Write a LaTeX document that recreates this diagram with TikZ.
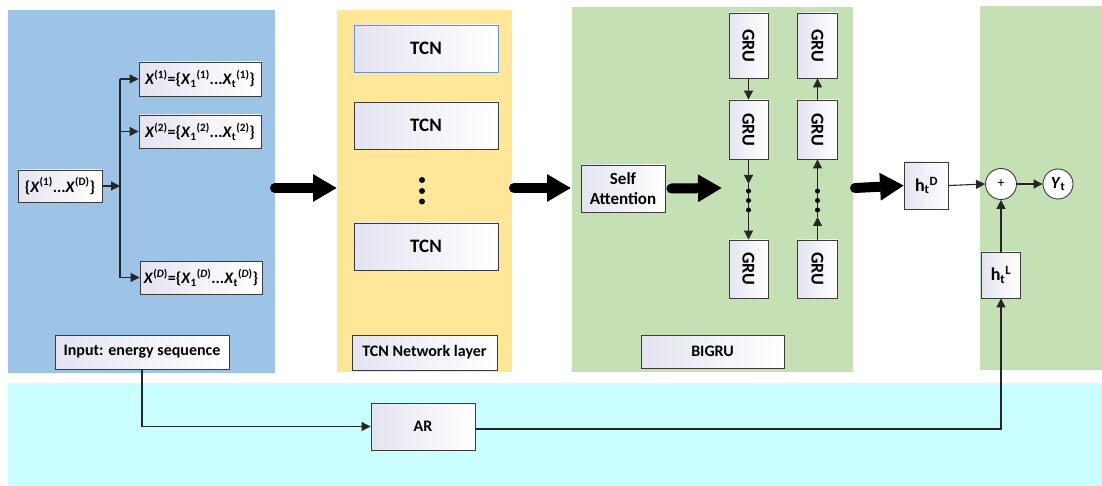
\documentclass[tikz,border=0pt]{standalone}
\usepackage{fontspec}
\setmainfont{Carlito}
\usetikzlibrary{arrows.meta,calc}
\definecolor{pblue}{HTML}{9DC3E6}
\definecolor{pyellow}{HTML}{FFE699}
\definecolor{pgreen}{HTML}{C5E0B4}
\definecolor{pcyan}{HTML}{CAFDFD}
\definecolor{lav}{HTML}{E4E4F1}
\definecolor{edge}{HTML}{3A3A3A}
\definecolor{blueedge}{HTML}{6F8FC8}
\tikzset{
  panel/.style={draw=none},
  box/.style={draw=edge, line width=0.9pt, left color=lav, right color=white, inner sep=0pt, align=center,
    font=\bfseries\fontsize{16}{18}\selectfont},
  bigfont/.style={font=\bfseries\fontsize{19}{21}\selectfont},
  grufont/.style={font=\bfseries\fontsize{18}{20}\selectfont},
  conn/.style={draw=black!85, line width=1.1pt, -{Triangle[length=9pt,width=9pt]}},
  line/.style={draw=black!85, line width=1.1pt},
  bigarrow/.style={draw=black, line width=10pt, line cap=round, -{Triangle[length=24pt,width=26pt]}},
  dot/.style={fill=black, circle, inner sep=0pt, minimum size=5pt},
  circ/.style={draw=edge, line width=0.9pt, fill=white, circle, inner sep=0pt, minimum size=31pt,
    font=\bfseries\fontsize{17}{19}\selectfont},
}
\begin{document}
\begin{tikzpicture}[x=1pt,y=-1pt]
\useasboundingbox (0,0) rectangle (1102,486);
% panels
\fill[pcyan] (8,383) rectangle (1102,486);
\fill[pblue] (8,10) rectangle (275,373);
\fill[pyellow] (337,10) rectangle (512,372);
\fill[pgreen] (572,7) rectangle (853,372);
\fill[pgreen] (980,6) rectangle (1102,370);
% input panel
\node[box, minimum width=84pt, minimum height=32pt] (xall) at (60,186) {\{\textit{X}\textsuperscript{(1)}...\textit{X}\textsuperscript{(D)}\}};
\node[box, minimum width=122pt, minimum height=34pt] (x1) at (200,79) {\textit{X}\textsuperscript{(1)}=\{\textit{X}\textsubscript{1}\textsuperscript{(1)}...\textit{X}\textsubscript{t}\textsuperscript{(1)}\}};
\node[box, minimum width=122pt, minimum height=33pt] (x2) at (200,131.5) {\textit{X}\textsuperscript{(2)}=\{\textit{X}\textsubscript{1}\textsuperscript{(2)}...\textit{X}\textsubscript{t}\textsuperscript{(2)}\}};
\node[box, minimum width=122pt, minimum height=33pt] (xD) at (201,277.5) {\textit{X}\textsuperscript{(\textit{D})}=\{\textit{X}\textsubscript{1}\textsuperscript{(\textit{D})}...\textit{X}\textsubscript{t}\textsuperscript{(\textit{D})}\}};
\node[box, minimum width=174pt, minimum height=34pt] (inp) at (142,352) {Input: energy sequence};
\coordinate (bus) at (120,186);
\coordinate (bustop) at (120,79);
\coordinate (busbot) at (120,277.5);
\draw[conn] (xall.east) -- (bus);
\draw[line] (bustop) -- (busbot);
\draw[conn] (bustop) -- (x1.west);
\draw[conn] (120,131.5) -- (x2.west);
\draw[conn] (busbot) -- (xD.west);
% TCN panel
\node[box, bigfont, draw=blueedge, minimum width=144pt, minimum height=47pt] (tcn1) at (426,48.5) {TCN};
\node[box, bigfont, minimum width=144pt, minimum height=47pt] (tcn2) at (426,125.5) {TCN};
\node[box, bigfont, minimum width=144pt, minimum height=47pt] (tcn3) at (426,246.5) {TCN};
\node[dot, minimum size=6pt] (td1) at (422,180) {};
\node[dot, minimum size=6pt] (td2) at (422,191) {};
\node[dot, minimum size=6pt] (td3) at (422,201.5) {};
\node[box, minimum width=145pt, minimum height=35pt] (tcnl) at (424.5,352.5) {TCN Network layer};
% big arrows
\coordinate (a1s) at (275,188);
\coordinate (a1e) at (337,188);
\coordinate (a2s) at (514,188);
\coordinate (a2e) at (571,188);
\draw[bigarrow] (a1s) -- (a1e);
\draw[bigarrow] (a2s) -- (a2e);
% BiGRU panel
\node[box, font=\bfseries\fontsize{17}{20}\selectfont, minimum width=84pt, minimum height=47pt] (sa) at (623,188.5) {Self\\Attention};
\coordinate (a3e) at (722,188);
\draw[bigarrow] ([xshift=6pt]sa.east) -- (a3e);
\node[box, grufont, minimum width=39pt, minimum height=65pt] (gl1) at (748.5,45.5) {\rotatebox{-90}{GRU}};
\node[box, grufont, minimum width=39pt, minimum height=59pt] (gl2) at (748.5,129.5) {\rotatebox{-90}{GRU}};
\node[box, grufont, minimum width=39pt, minimum height=58pt] (gl3) at (748.5,269) {\rotatebox{-90}{GRU}};
\node[box, grufont, minimum width=40pt, minimum height=65pt] (gr1) at (817.5,45.5) {\rotatebox{-90}{GRU}};
\node[box, grufont, minimum width=40pt, minimum height=59pt] (gr2) at (817.5,129.5) {\rotatebox{-90}{GRU}};
\node[box, grufont, minimum width=40pt, minimum height=58pt] (gr3) at (817.5,269) {\rotatebox{-90}{GRU}};
\coordinate (lmid) at (748.5,184);
\coordinate (rmid) at (817.5,217);
\draw[conn] (gl1.south) -- (gl2.north);
\draw[conn] (gl2.south) -- (lmid);
\draw[conn] (lmid) -- (gl3.north);
\draw[conn] (gr3.north) -- (rmid);
\draw[conn] (rmid) -- (gr2.south);
\draw[conn] (gr2.north) -- (gr1.south);
\foreach \y/\n in {191/1,200.5/2,210/3}{
  \node[dot] (dl\n) at (748.5,\y) {};
  \node[dot] (dr\n) at (817.5,\y) {};
}
\node[box, minimum width=143pt, minimum height=33pt] (bigru) at (712.5,351.5) {BIGRU};
% output part
\node[box, font=\bfseries\fontsize{18}{20}\selectfont, minimum width=44pt, minimum height=47pt] (hD) at (926.5,185.5) {h\textsubscript{t}\textsuperscript{D}};
\coordinate (a4s) at (855,188);
\draw[bigarrow] (a4s) -- (hD.west);
\node[circ] (plus) at (1001,184) {\normalfont\fontsize{14}{16}\selectfont+};
\node[circ, minimum size=30pt] (yt) at (1058,184) {\textit{Y}\textsubscript{t}};
\node[box, font=\bfseries\fontsize{18}{20}\selectfont, minimum width=39pt, minimum height=46pt] (hL) at (1001,275) {h\textsubscript{t}\textsuperscript{L}};
\draw[conn] (hD.east) -- (plus.west);
\draw[conn] (plus.east) -- (yt.west);
\draw[conn] (hL.north) -- (plus.south);
% AR
\node[box, minimum width=104pt, minimum height=47pt] (ar) at (423,426.5) {AR};
\coordinate (arout) at (475,429);
\draw[conn] (inp.south) |- (ar.west);
\draw[conn] (arout) -| (hL.south);
\end{tikzpicture}
\end{document}
